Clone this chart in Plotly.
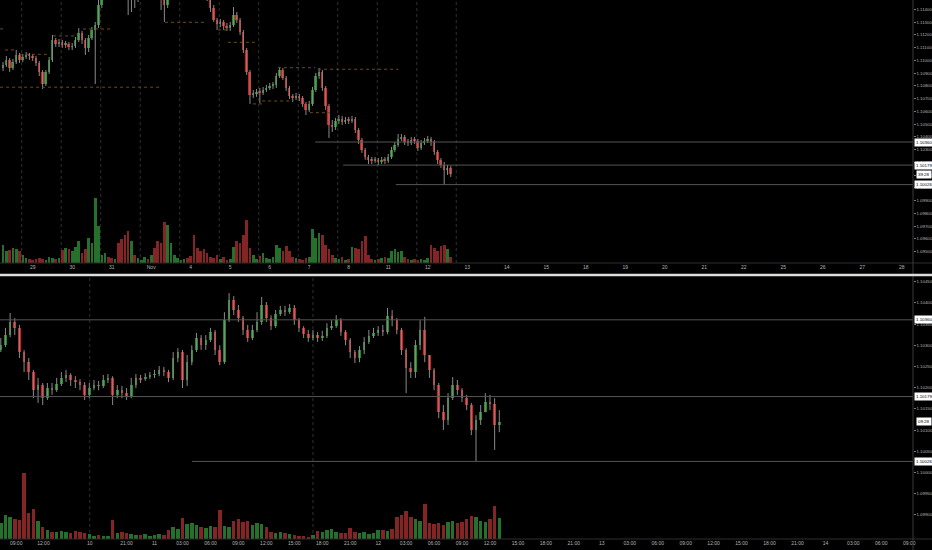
import plotly.graph_objects as go

SCALE = 100000.0

# ---------------- TOP PANEL (2h candles, index 0 = Oct 29) ----------------
top_start = -9
top_first_open = 110941
top_close = [110964,111004,110941,110988,111043,111004,111027,111043,111035,
 111019,110980,110910,110815,110910,111004,111160,111129,111145,111121,
 111129,111106,111113,111160,111215,111160,111098,111176,111239,111278,
 111435,111592,111670,111631,111615,111646,111631,111615,111568,111513,
 111537,111498,111552,111592,111631,111615,111646,111592,111552,111513,
 111435,111537,111592,111615,111631,111646,111670,111646,111631,111615,
 111592,111568,111537,111490,111411,111317,111286,111302,111270,111254,
 111278,111356,111317,111223,111082,110910,110729,110737,110753,110745,
 110768,110784,110800,110808,110878,110925,110862,110784,110721,110706,
 110721,110706,110659,110612,110659,110768,110878,110910,110784,110643,
 110494,110478,110525,110541,110518,110533,110525,110541,110455,110376,
 110298,110243,110220,110212,110220,110204,110220,110212,110243,110298,
 110337,110384,110400,110361,110353,110376,110369,110314,110353,110369,
 110384,110361,110282,110220,110180,110141,110157,110110]
top_high = [110988,111035,111019,111011,111082,111058,111051,111066,111058,
 111051,111035,110996,110925,110925,111027,111200,111176,111168,111160,
 111153,111145,111137,111184,111254,111231,111176,111200,111262,111302,
 111552,111631,111709,111694,111662,111678,111670,111654,111631,111592,
 111568,111552,111576,111615,111654,111662,111678,111670,111615,111576,
 111537,111568,111615,111646,111662,111678,111701,111694,111670,111654,
 111639,111615,111592,111560,111513,111435,111333,111325,111317,111294,
 111302,111419,111380,111333,111239,111098,110925,110768,110776,110784,
 110792,110808,110823,110831,110902,110949,110941,110878,110800,110737,
 110745,110737,110721,110674,110682,110792,110902,110941,110925,110800,
 110659,110533,110549,110572,110565,110557,110557,110565,110557,110470,
 110392,110314,110259,110243,110243,110235,110243,110243,110267,110322,
 110361,110423,110423,110416,110384,110400,110400,110384,110376,110392,
 110408,110400,110376,110298,110235,110204,110180,110173]
top_low = [110917,110949,110910,110925,110972,110980,110988,111011,111004,
 110996,110957,110878,110776,110800,110894,110988,111106,111106,111098,
 111098,111082,111082,111098,111145,111129,111043,111066,111160,110815,
 111254,111411,111568,111599,111584,111592,111607,111584,111537,111356,
 111380,111411,111458,111529,111568,111584,111592,111568,111521,111396,
 111302,111411,111513,111568,111592,111607,111623,111623,111607,111592,
 111568,111545,111513,111466,111380,111302,111239,111262,111239,111231,
 111231,111262,111294,111200,111058,110886,110659,110706,110714,110666,
 110729,110753,110768,110776,110784,110862,110847,110761,110698,110674,
 110690,110682,110635,110572,110596,110643,110753,110855,110761,110612,
 110392,110439,110455,110502,110494,110502,110502,110510,110431,110345,
 110274,110220,110188,110188,110196,110180,110188,110188,110196,110227,
 110282,110322,110369,110337,110329,110337,110345,110290,110298,110337,
 110353,110329,110259,110188,110157,110026,110102,110086]
top_volume = [18,12,13,15,14,12,8,5,4,
 3,4,5,4,3,6,5,4,5,13,
 15,14,12,16,22,10,14,25,20,65,
 37,8,10,6,5,4,20,24,28,32,
 22,8,5,3,6,4,8,15,22,20,
 41,38,20,8,5,3,4,5,7,28,
 15,12,14,10,6,5,8,4,6,3,
 4,16,22,20,28,43,15,8,4,7,
 10,5,4,6,18,15,12,17,12,6,
 5,4,3,5,6,34,25,30,28,18,
 14,8,5,4,6,3,4,16,15,14,
 22,27,8,4,3,4,5,6,5,12,
 14,11,12,6,4,3,4,3,4,3,
 5,18,15,12,17,18,14,6]
top_day_labels = ["29","30","31","Nov","4","5","6","7","8","11","12","13","14",
                  "15","18","19","20","21","22","25","26","27","28"]
top_candles_per_day = 12
top_session_days = list(range(0, 12))
top_pivots = [(-9.9,-8.4,1.11247),(-8.4,-5.4,1.11082),(-3.9,4.6,1.11048),(6.2,13.5,1.11192),
              (15.3,24.4,1.11247),(-9.9,39.3,1.10790),(40.2,52.9,1.11299),(56.3,59.9,1.11239),
              (59.3,67.8,1.11142),(74.5,85.8,1.10943),(86.7,111.0,1.10931),(66.9,69.9,1.10659),
              (69.7,78.2,1.10682),(84.2,90.3,1.10590)]
levels = [1.10360, 1.10179, 1.10026]
top_level_start = [85.8, 94.3, 110.3]
top_countdown = "39:28"

# ---------------- BOTTOM PANEL (30m candles, index 0 = Nov 11 00:00) ----------------
bot_start = -33
bot_first_open = 110289
bot_close = [110300,110324,110355,110341,110284,110260,110237,110194,110206,110175,
 110199,110194,110209,110223,110230,110218,110213,110206,110183,110199,
 110206,110204,110218,110223,110183,110194,110187,110180,110206,110223,
 110220,110225,110230,110232,110242,110237,110223,110270,110284,110218,
 110260,110289,110317,110300,110312,110331,110289,110260,110359,110407,
 110383,110364,110336,110317,110336,110355,110395,110364,110345,110374,
 110383,110378,110388,110359,110341,110326,110317,110324,110317,110322,
 110341,110345,110359,110331,110312,110284,110270,110289,110308,110322,
 110329,110336,110331,110369,110359,110336,110289,110246,110237,110300,
 110336,110277,110242,110206,110142,110124,110175,110206,110194,110175,
 110159,110100,110124,110142,110166,110161,110112,110119]
bot_high = [110317,110341,110376,110364,110348,110289,110270,110242,110223,110211,
 110211,110211,110223,110237,110242,110234,110227,110220,110213,110211,
 110218,110216,110230,110232,110227,110206,110204,110199,110223,110232,
 110230,110234,110237,110242,110251,110249,110242,110284,110293,110289,
 110277,110300,110329,110324,110324,110341,110336,110300,110378,110423,
 110416,110395,110369,110348,110348,110378,110414,110402,110371,110383,
 110393,110393,110397,110395,110364,110345,110336,110336,110331,110334,
 110352,110359,110371,110364,110336,110317,110289,110298,110319,110336,
 110341,110345,110348,110388,110383,110364,110341,110293,110260,110312,
 110359,110367,110277,110246,110211,110159,110187,110225,110218,110199,
 110183,110164,110135,110159,110187,110183,110175,110147]
bot_low = [110284,110296,110319,110324,110270,110237,110218,110175,110164,110159,
 110171,110183,110190,110204,110213,110204,110199,110194,110171,110175,
 110194,110194,110199,110211,110159,110175,110175,110171,110175,110199,
 110211,110216,110220,110223,110227,110227,110213,110218,110260,110199,
 110204,110253,110284,110289,110289,110308,110277,110253,110256,110355,
 110371,110355,110324,110308,110312,110331,110348,110355,110336,110341,
 110369,110369,110374,110348,110331,110317,110308,110312,110308,110310,
 110317,110336,110341,110322,110300,110270,110258,110260,110279,110303,
 110317,110322,110322,110326,110345,110326,110277,110187,110223,110223,
 110289,110260,110223,110194,110128,110100,110112,110171,110183,110166,
 110147,110088,110026,110112,110152,110147,110053,110095]
bot_volume = [16,24,22,20,19,66,26,30,18,12,
 9,7,7,8,7,6,8,7,6,5,
 3,4,3,3,19,6,7,6,5,4,
 4,5,3,4,5,4,9,12,10,21,
 15,16,14,12,11,13,12,29,13,12,
 18,20,17,18,14,16,15,12,7,6,
 7,6,5,4,3,3,2,4,8,7,
 9,10,7,6,6,11,7,6,7,5,
 6,9,9,8,10,22,24,28,22,20,
 18,35,16,15,16,14,17,18,16,17,
 20,23,22,18,17,20,33,21]
bot_tick_labels = ["09:00","12:00","10","21:00","11","03:00","06:00","09:00","12:00","15:00",
                   "18:00","21:00","12","03:00","06:00","09:00","12:00","15:00","18:00","21:00",
                   "13","03:00","06:00","09:00","12:00","15:00","18:00","21:00","14","03:00",
                   "06:00","09:00"]
bot_tick_pos = [-29.7, -23.85, -13.9] + [6 * m for m in range(-1, 28)]
bot_sessions = [-13.9, 34.0]
bot_level_start = [-33.2, -33.2, 8.05]
bot_countdown = "09:28"

UP, DOWN = "#1e8a26", "#d41f1f"
VUP, VDOWN = "#25702a", "#852424"
WICK = "#8a8a8a"


def build(start, first_open, close, high, low, vol, xa, ya_vol, ya_px, bw, vw):
    n = len(close)
    xs = list(range(start, start + n))
    c = [v / SCALE for v in close]
    o = [first_open / SCALE] + c[:-1]
    h = [max(high[i] / SCALE, o[i], c[i]) for i in range(n)]
    l = [min(low[i] / SCALE, o[i], c[i]) for i in range(n)]
    up = [c[i] >= o[i] for i in range(n)]
    wx, wy = [], []
    for i in range(n):
        wx += [xs[i], xs[i], None]
        wy += [l[i], h[i], None]
    traces = [
        go.Bar(x=xs, y=vol, marker=dict(color=[VUP if u else VDOWN for u in up], line=dict(width=0)),
               width=vw, xaxis=xa, yaxis=ya_vol, hoverinfo="skip"),
        go.Scatter(x=wx, y=wy, mode="lines", line=dict(color=WICK, width=1),
                   xaxis=xa, yaxis=ya_px, hoverinfo="skip"),
        go.Bar(x=xs, y=[max(abs(c[i] - o[i]), 0.00002) for i in range(n)],
               base=[min(o[i], c[i]) for i in range(n)],
               marker=dict(color=[UP if u else DOWN for u in up], line=dict(width=0)),
               width=bw, xaxis=xa, yaxis=ya_px, hoverinfo="skip"),
    ]
    return traces, c[-1]


top_traces, top_last = build(top_start, top_first_open, top_close, top_high, top_low, top_volume,
                             "x", "y", "y3", 0.6, 0.8)
bot_traces, bot_last = build(bot_start, bot_first_open, bot_close, bot_high, bot_low, bot_volume,
                             "x2", "y2", "y4", 0.55, 0.75)

fig = go.Figure(top_traces + bot_traces)

FONT = "Liberation Sans, Arial, sans-serif"
tickfont = dict(size=5, color="#b4b4b4", family=FONT)
ytickfont = dict(size=4.4, color="#b4b4b4", family=FONT)
TOP_DOM = [0.51206, 1.0]
BOT_DOM = [0.0, 0.48609]

fig.update_layout(
    width=932, height=550,
    margin=dict(l=0, r=19, t=0, b=11, autoexpand=False),
    paper_bgcolor="#000000", plot_bgcolor="#000000",
    showlegend=False, barmode="overlay", bargap=0,
    xaxis=dict(domain=[0, 1], anchor="y", range=[-9.93, 267.4],
               tickvals=[top_candles_per_day * d for d in range(len(top_day_labels))],
               ticktext=top_day_labels, showgrid=False, zeroline=False, ticks="",
               tickfont=tickfont, showline=False),
    yaxis=dict(domain=TOP_DOM, range=[0, 263], visible=False),
    yaxis3=dict(overlaying="y", anchor="x", side="right", range=[1.09411, 1.11474],
                tickvals=[round(1.095 + 0.001 * k, 3) for k in range(20)], tickformat=".5f",
                showgrid=False, zeroline=False, ticks="outside", ticklen=1.5, tickcolor="#777",
                tickfont=ytickfont, showline=False),
    xaxis2=dict(domain=[0, 1], anchor="y2", range=[-33.17, 162.8],
                tickvals=bot_tick_pos, ticktext=bot_tick_labels, showgrid=False, zeroline=False,
                ticks="", tickfont=tickfont, showline=False),
    yaxis2=dict(domain=BOT_DOM, range=[0, 262], visible=False),
    yaxis4=dict(overlaying="y2", anchor="x2", side="right", range=[1.09843, 1.10461],
                tickvals=[round(1.099 + 0.0005 * k, 4) for k in range(12)], tickformat=".5f",
                showgrid=False, zeroline=False, ticks="outside", ticklen=1.5, tickcolor="#777",
                tickfont=ytickfont, showline=False),
)

shapes = []
# session separators (dotted)
for d in top_session_days:
    xv = top_candles_per_day * d - 3.34
    shapes.append(dict(type="line", xref="x", yref="paper", x0=xv, x1=xv, y0=TOP_DOM[0], y1=TOP_DOM[1],
                       line=dict(color="#303030", width=1, dash="dot"), layer="below"))
for xv in bot_sessions:
    shapes.append(dict(type="line", xref="x2", yref="paper", x0=xv, x1=xv, y0=BOT_DOM[0], y1=BOT_DOM[1],
                       line=dict(color="#303030", width=1, dash="dot"), layer="below"))
# pivot lines
for x0, x1, p in top_pivots:
    shapes.append(dict(type="line", xref="x", yref="y3", x0=x0, x1=x1, y0=p, y1=p,
                       line=dict(color="#6e4b1c", width=1, dash="dot")))
# horizontal level lines
for lv, s in zip(levels, top_level_start):
    shapes.append(dict(type="line", xref="x", yref="y3", x0=s, x1=267.4, y0=lv, y1=lv,
                       line=dict(color="#555555", width=1)))
for lv, s in zip(levels, bot_level_start):
    shapes.append(dict(type="line", xref="x2", yref="y4", x0=s, x1=162.8, y0=lv, y1=lv,
                       line=dict(color="#555555", width=1)))
# frame lines
shapes.append(dict(type="line", xref="paper", yref="paper", x0=0, x1=1.0208, y0=TOP_DOM[0], y1=TOP_DOM[0],
                   line=dict(color="#2e2e2e", width=1)))
shapes.append(dict(type="line", xref="paper", yref="paper", x0=0, x1=1.0208, y0=0, y1=0,
                   line=dict(color="#2e2e2e", width=1)))
shapes.append(dict(type="line", xref="paper", yref="paper", x0=1, x1=1, y0=-0.03, y1=1.0,
                   line=dict(color="#3a3a3a", width=1)))
shapes.append(dict(type="line", xref="paper", yref="paper", x0=0, x1=1.0208, y0=0.4898, y1=0.4898,
                   line=dict(color="#dcdcdc", width=2.5)))
fig.update_layout(shapes=shapes)

ann = []
boxfont = dict(size=4.4, color="#000000", family=FONT)
for lv in levels:
    ann.append(dict(xref="paper", yref="y3", x=1.0015, y=lv, text=f"{lv:.5f}", showarrow=False,
                    xanchor="left", yanchor="middle", bgcolor="#ffffff", font=boxfont, borderpad=1))
    ann.append(dict(xref="paper", yref="y4", x=1.0015, y=lv, text=f"{lv:.5f}", showarrow=False,
                    xanchor="left", yanchor="middle", bgcolor="#ffffff", font=boxfont, borderpad=1))
ann.append(dict(xref="paper", yref="y3", x=1.003, y=top_last, text=top_countdown, showarrow=False,
                xanchor="left", yanchor="middle", bgcolor="#ffffff", font=boxfont, borderpad=1,
                yshift=-1))
ann.append(dict(xref="paper", yref="y4", x=1.003, y=bot_last, text=bot_countdown, showarrow=False,
                xanchor="left", yanchor="middle", bgcolor="#ffffff", font=boxfont, borderpad=1))
fig.update_layout(annotations=ann)

fig.write_html("out.html", config={"displayModeBar": False},
               post_script="document.body.style.margin='0';document.body.style.background='#000';")
